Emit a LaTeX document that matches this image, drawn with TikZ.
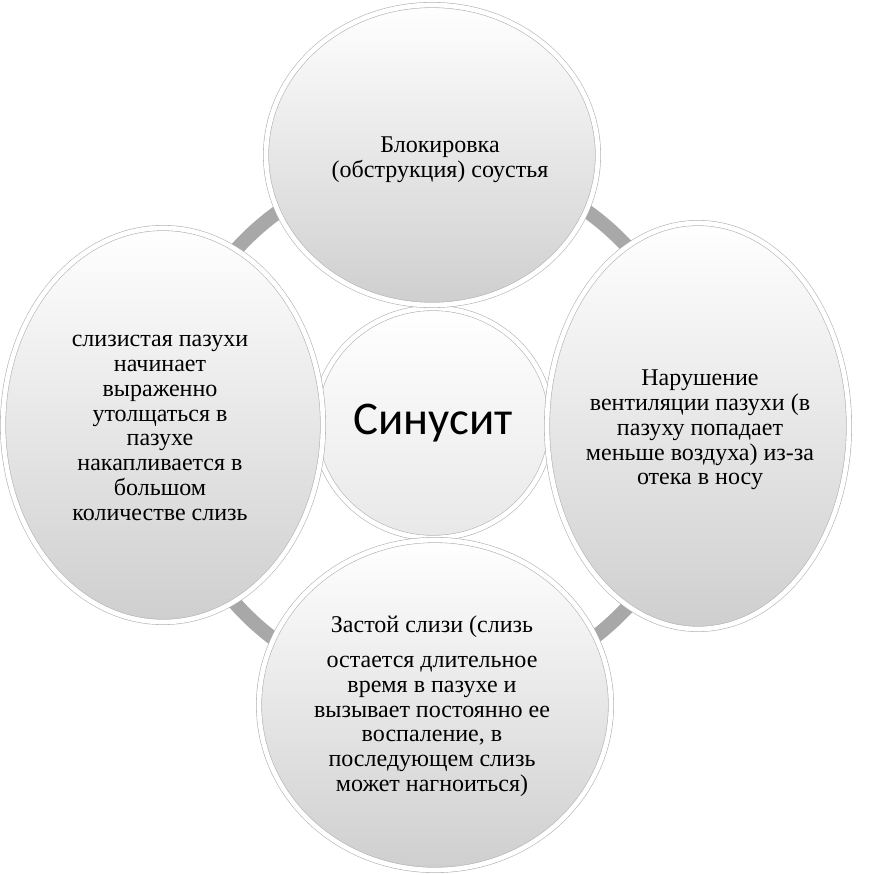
\documentclass[tikz,border=0pt]{standalone}
\usepackage{fontspec}
\setmainfont{Liberation Serif}
\newfontfamily\hubfont{Carlito}
\usetikzlibrary{shapes.geometric,shadows}
\begin{document}
\begin{tikzpicture}[
    x=0.03cm, y=-0.03cm,
    bubble/.style={ellipse, draw=gray!60, line width=0.5pt, double=white, double distance=4pt,
      top color=white, middle color=gray!10, bottom color=gray!38,
      drop shadow={opacity=0.25, shadow xshift=0.8pt, shadow yshift=-1.8pt}},
    note/.style={align=center, inner sep=0pt, font=\fontsize{20.5}{21.2}\selectfont},
    ring/.style={draw=gray!68, line width=12pt}]
  \fill[white] (0,0) rectangle (873,875);
  \useasboundingbox (0,0) rectangle (873,875);
  \coordinate (mid) at (433,427);
  \draw[ring] (mid) circle[radius=7.95cm];
  \node[bubble, minimum width=6.9cm, minimum height=6.9cm, middle color=white, bottom color=gray!18,
    font=\hubfont\fontsize{40}{44}\selectfont] (hub) at (433,423) {Синусит};
  \node[bubble, minimum width=9.96cm, minimum height=9cm] (block) at (432,155) {};
  \node[bubble, minimum width=9.6cm, minimum height=11.82cm] (thick) at (163,425) {};
  \node[bubble, minimum width=9.06cm, minimum height=12.18cm] (vent) at (698,426) {};
  \node[bubble, minimum width=10.56cm, minimum height=9.9cm] (stasis) at (435,705) {};
  \node[note] (blockText) at (440,160) {Блокировка\\(обструкция) соустья};
  \node[note] (thickText) at (160,428) {слизистая пазухи\\начинает\\выраженно\\утолщаться  в\\пазухе\\накапливается в\\большом\\количестве слизь};
  \node[note] (ventText) at (700,430) {Нарушение\\вентиляции пазухи (в\\пазуху попадает\\меньше воздуха) из-за\\отека в носу};
  \node[note] (stasisText) at (432,706) {Застой слизи (слизь\\[9pt]остается длительное\\время в пазухе и\\вызывает постоянно ее\\воспаление, в\\последующем слизь\\может нагноиться)};
\end{tikzpicture}
\end{document}
